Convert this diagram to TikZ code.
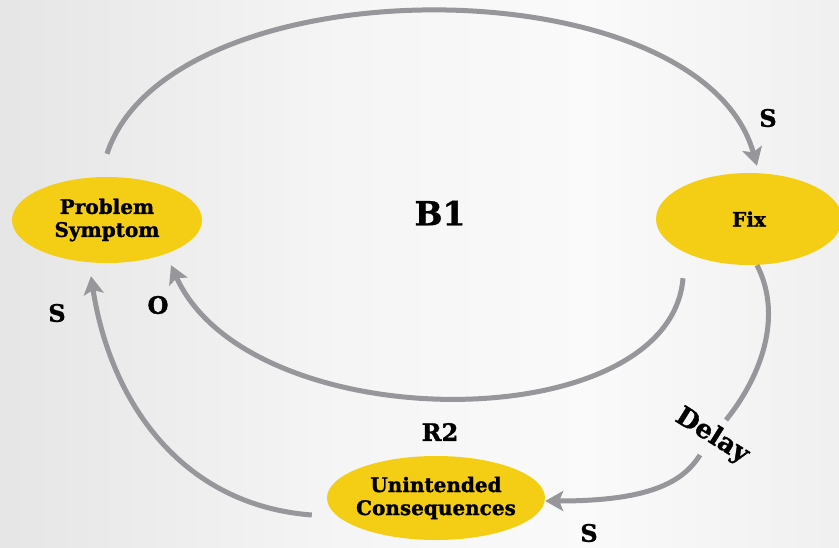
\documentclass[tikz,border=0pt]{standalone}
\usepackage{fontspec}
\setmainfont{DejaVu Serif}[BoldFeatures={FakeBold=1.2}]
\usetikzlibrary{arrows.meta,shapes.geometric}
\definecolor{loopgray}{RGB}{150,150,155}
\definecolor{nodeyellow}{RGB}{244,206,20}
% soft grey backdrop, darker on the left, nearly white in the middle
\pgfdeclarehorizontalshading{backdrop}{100bp}{%
  color(0bp)=(black!10); color(25bp)=(black!10); color(45bp)=(black!4);
  color(60bp)=(black!2); color(75bp)=(black!6); color(100bp)=(black!6)}
\begin{document}
\begin{tikzpicture}[x=1pt,y=-1pt,
  conn/.style={draw=loopgray, line width=5pt, -{Stealth[length=18pt,width=20pt,inset=4pt]}},
  plain/.style={draw=loopgray, line width=5pt},
  var/.style={ellipse, fill=nodeyellow, inner sep=-10pt, align=center,
    font=\fontsize{20}{23}\selectfont\bfseries},
  lbl/.style={font=\fontsize{24}{26}\selectfont\bfseries, inner sep=0pt},
]
\shade[shading=backdrop] (0,0) rectangle (839,547);
\useasboundingbox (0,0) rectangle (839,547);

% variables
\node[var, minimum width=190pt, minimum height=86pt] (ps) at (107,220) {Problem\\Symptom};
\node[var, minimum width=186pt, minimum height=92pt] (fix) at (749,219) {Fix};
\node[var, minimum width=218pt, minimum height=84pt] (uc) at (436,498) {Unintended\\Consequences};

% balancing loop: symptom -> fix -> symptom
\draw[conn] ([yshift=23pt]ps.north) .. controls (170,-38) and (700,-38) .. ([xshift=8pt,yshift=7pt]fix.north);
\draw[conn] ([xshift=-66pt,yshift=-13pt]fix.south) .. controls (670,440) and (250,440) .. ([xshift=64pt,yshift=-2pt]ps.south);

% reinforcing loop: fix -> consequences (delayed) -> symptom
\coordinate (gapa) at (726,420);
\coordinate (gapb) at (700,455);
\draw[plain] ([xshift=8pt]fix.south) .. controls (785,320) and (757,382) .. (gapa);
\draw[conn] (gapb) .. controls (683,482) and (650,501) .. ([yshift=-3pt]uc.east);
\draw[conn] ([xshift=-15pt,yshift=-17pt]uc.west) .. controls (180,505) and (110,400) .. ([xshift=-16pt,yshift=-13pt]ps.south);

% polarity and loop labels
\node[lbl] (s1) at (768,118) {S};
\node[font=\fontsize{33}{35}\selectfont\bfseries] (b1) at (440,213) {B1};
\node[lbl] (s2) at (57,313) {S};
\node[lbl] (o1) at (158,305) {O};
\node[lbl] (r2) at (440,432) {R2};
\node[lbl] (s3) at (589,533) {S};
\node[lbl, font=\fontsize{26}{28}\selectfont\bfseries, rotate=-32] (dly) at (712,436) {Delay};
\end{tikzpicture}
\end{document}
